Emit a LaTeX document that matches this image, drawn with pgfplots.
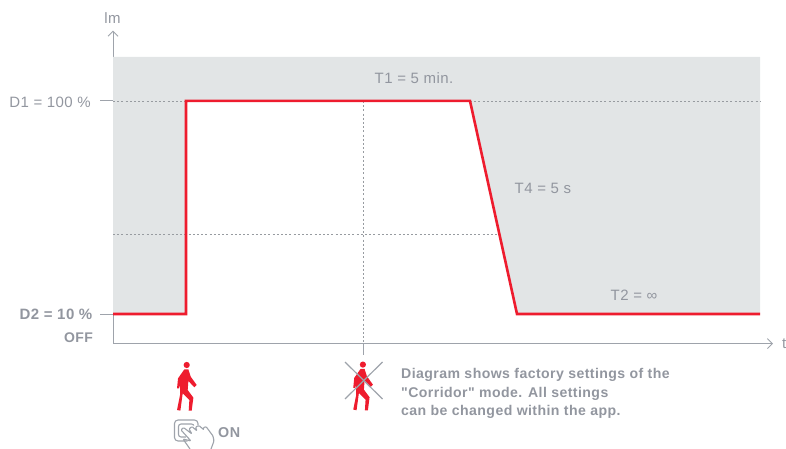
\documentclass[border=0pt]{standalone}
\usepackage{fontspec}
\setmainfont{Liberation Sans}[Ligatures=TeXOff,LetterSpace=3]
\usepackage{pgfplots}
\pgfplotsset{compat=1.18}
\usetikzlibrary{arrows.meta}
\definecolor{grtxt}{HTML}{92969F}
\definecolor{graxis}{HTML}{9EA3AB}
\definecolor{grfill}{HTML}{E2E5E6}
\definecolor{grdot}{HTML}{979BA0}
\definecolor{redl}{HTML}{EE1C2E}
\newcommand{\person}[2]{%
\begin{scope}[shift={(#1,#2)},x=0.3333pt,y=-0.3333pt]
\fill[redl] (0,0) circle (3.1pt);
\fill[redl] (-7,13) -- (5,13) -- (12,35) -- (30,60) -- (23,67) -- (5,48) -- (3,75) -- (20,98) -- (15,137) -- (6,137) -- (8,105) -- (-12,85) -- (-19,137) -- (-29,135) -- (-20,90) -- (-20,60) -- (-23,70) -- (-29,70) -- (-26,40) -- cycle;
\end{scope}}
\begin{document}
\begin{tikzpicture}[x=1pt,y=1pt]
\path[use as bounding box] (0,0) rectangle (786,449);
\begin{axis}[
  at={(113pt,111.3pt)}, anchor=origin,
  scale only axis, width=660pt, height=313pt,
  xmin=0, xmax=660, ymin=-2.5, ymax=129.7,
  axis x line=bottom, axis y line=left,
  axis line style={graxis,line width=1pt,-{Straight Barb[length=5pt,width=10pt,line width=0.9pt]}},
  xtick=\empty,
  ytick={10,100}, yticklabels={},
  tick style={graxis,line width=1pt},
  major tick length=13pt,
  tick align=outside,
  clip=false,
  axis on top=false
]
\addplot[fill=grfill,draw=none,forget plot] coordinates {(0,10)(73,10)(73,100)(357,100)(404,10)(647,10)(647,118.6)(0,118.6)} -- cycle;
\addplot[grdot,line width=0.7pt,dash pattern=on 2pt off 2.2pt] coordinates {(0,100)(73,100)};
\addplot[grdot,line width=0.7pt,dash pattern=on 2pt off 2.2pt] coordinates {(357,100)(647,100)};
\addplot[grdot,line width=0.7pt,dash pattern=on 2pt off 2.2pt] coordinates {(0,43.8)(385,43.8)};
\addplot[grdot,line width=0.7pt,dash pattern=on 2pt off 2.2pt] coordinates {(250,100)(250,-2.5)};
\addplot[graxis,line width=1pt] coordinates {(250,-2.5)(250,-7.5)};
\addplot[redl,line width=2.6pt,line join=miter] coordinates {(0,10)(73,10)(73,100)(357,100)(404,10)(647,10)};
\end{axis}
\begin{scope}[shift={(0,449pt)},x=1pt,y=-1pt,every node/.style={text=grtxt,inner sep=0pt,font=\fontsize{15}{16}\selectfont}]
\node[anchor=east] at (91,102) {D1 = 100 \%};
\node[anchor=east] at (93,314.5) {\textbf{D2 = 10 \%}};
\node[anchor=east,font=\fontsize{14}{16}\selectfont] at (93.5,338) {\textbf{OFF}};
\node[anchor=base] at (112.5,23.5) {lm};
\node[anchor=west] at (782,344) {t};
\node at (414,78.5) {T1 = 5 min.};
\node[anchor=west] at (514.5,188.5) {T4 = 5 s};
\node[anchor=west] at (610.5,295) {T2 = ∞};
\node[anchor=west,font=\fontsize{14.3}{16}\selectfont] at (218,433) {\textbf{ON}};
\node[anchor=west,font=\fontsize{14.1}{18.4}\selectfont\bfseries,align=left] at (401,393.5) {Diagram shows factory settings of the\\"Corridor" mode. All settings\\can be changed within the app.};
\person{186.7}{365}
\person{362.9}{364.6}
\draw[graxis,line width=1.2pt] (345,362) -- (382.5,399);
\draw[graxis,line width=1.2pt] (382.5,362) -- (345,399);
% touch icon
\begin{scope}[graxis,line width=1.1pt]
\draw[rounded corners=3.5pt] (198,431) -- (198,420) -- (174.5,420) -- (174.5,441) -- (190,441);
\draw[rounded corners=2.5pt] (194,433) -- (194,424) -- (178.5,424) -- (178.5,437) -- (186,437);
\fill[white] (183,427) -- (199,425) -- (214,440) -- (214,449) -- (190,449) -- cycle;
\draw[rounded corners=1pt,line join=round] (190,449) -- (183,439) -- (191,441) -- (181,430) -- (183.5,427.5) -- (192,434) -- (189,429) -- (192,426.5) -- (197,431) -- (195.5,427) -- (199,425.5) -- (204,430) -- (203,428) -- (206,426.5) -- (213,436) -- (214,441) -- (211,449);
\end{scope}
\end{scope}
\end{tikzpicture}
\end{document}
